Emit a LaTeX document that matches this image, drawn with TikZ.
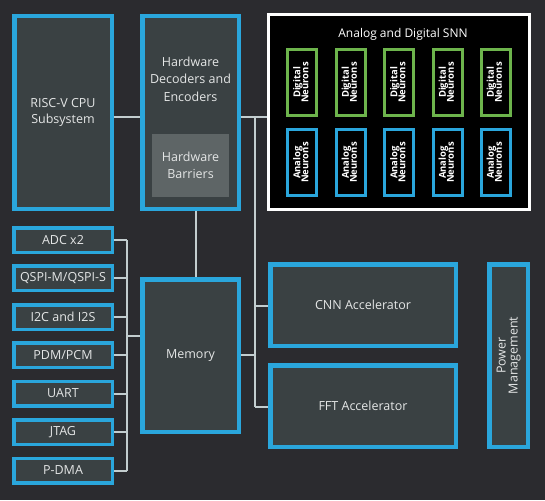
\documentclass[tikz,border=0pt]{standalone}
\usepackage{fontspec}
\setmainfont{Open Sans}
\definecolor{bg}{HTML}{2B2B2F}
\definecolor{boxfill}{HTML}{3A4143}
\definecolor{sblue}{HTML}{2AA6DC}
\definecolor{sgreen}{HTML}{6DB44C}
\definecolor{barr}{HTML}{5E6566}
\definecolor{txt}{HTML}{E4E6E6}
\definecolor{wire}{HTML}{C3CDCF}
\begin{document}
\begin{tikzpicture}[x=1pt,y=-1pt,
  box/.style={draw=sblue,line width=4.5pt,fill=boxfill,text=txt,inner sep=0pt,align=center,font=\fontsize{12.5}{16}\selectfont},
  iobox/.style={draw=sblue,line width=3.5pt,fill=boxfill,text=txt,inner sep=0pt,align=center,
     minimum width=98.5pt,minimum height=24.5pt,font=\fontsize{12.5}{15}\selectfont},
  neuron/.style={line width=3pt,fill=black,text=white,inner sep=0pt,align=center,
     minimum width=29pt,minimum height=66pt,font=\fontsize{9.5}{9}\selectfont\bfseries},
  dneuron/.style={neuron,draw=sgreen},
  aneuron/.style={neuron,draw=sblue},
  wirel/.style={draw=wire,line width=2pt}]
\fill[bg] (0,0) rectangle (545,500);
\useasboundingbox (0,0) rectangle (545,500);

\coordinate (rb0) at (255,117);
\coordinate (rb1) at (255,407);
\coordinate (rbc) at (255,306);
\coordinate (rbm) at (255,355);
\coordinate (lb0) at (127,240);
\coordinate (lb1) at (127,470.5);
\coordinate (lbm) at (127,336);

\node[box,minimum width=97.5pt,minimum height=192.5pt] (cpu) at (63,112.5) {RISC-V CPU\\Subsystem};
\node[box,minimum width=96.5pt,minimum height=192.5pt] (hw) at (190.5,112.5) {};
\node[text=txt,align=center,font=\fontsize{12.5}{17.5}\selectfont] (hwt) at (190.5,79) {Hardware\\Decoders and\\Encoders};
\node[fill=barr,text=txt,align=center,inner sep=0pt,minimum width=77pt,minimum height=63pt,font=\fontsize{12.5}{17.5}\selectfont] (bar) at (190.5,165.5) {Hardware\\Barriers};

\node[draw=white,line width=3pt,fill=black,minimum width=261pt,minimum height=195pt,inner sep=0pt] (snn) at (399,112) {};
\node[text=white,font=\fontsize{12}{14}\selectfont] (snnt) at (403,34) {Analog and Digital SNN};
\foreach \i/\x in {1/302,2/350.5,3/399,4/447.5,5/495.5}{
  \node[dneuron] (d\i) at (\x,82.5) {\rotatebox{90}{\begin{tabular}{@{}c@{}}Digital\\[-1.5pt]Neurons\end{tabular}}};
  \node[aneuron] (a\i) at (\x,162.5) {\rotatebox{90}{\begin{tabular}{@{}c@{}}Analog\\[-1.5pt]Neurons\end{tabular}}};
}

\node[iobox] (adc) at (63,240) {ADC x2};
\node[iobox] (qspi) at (63,278) {QSPI-M/QSPI-S};
\node[iobox] (i2c) at (63,317) {I2C and I2S};
\node[iobox] (pdm) at (63,355) {PDM/PCM};
\node[iobox] (uart) at (63,393.5) {UART};
\node[iobox] (jtag) at (63,432) {JTAG};
\node[iobox] (pdma) at (63,470.5) {P-DMA};

\node[box,minimum width=96.5pt,minimum height=152.5pt] (mem) at (190.5,355.5) {Memory};
\node[box,minimum width=185.5pt,minimum height=81.5pt] (cnn) at (363,305) {CNN Accelerator};
\node[box,minimum width=185.5pt,minimum height=81.5pt] (fft) at (363,406) {FFT Accelerator};
\node[box,minimum width=38.5pt,minimum height=182.5pt] (pwr) at (508.5,355.5) {\rotatebox{90}{\begin{tabular}{@{}c@{}}Power\\[-4pt]Management\end{tabular}}};

\draw[wirel] ([yshift=-4.5pt]cpu.east) -- ([yshift=-4.5pt]hw.west);
\draw[wirel] ([yshift=-4.5pt]hw.east) -- ([yshift=-5pt]snn.west);
\draw[wirel] (rb0) -- (rb1);
\draw[wirel] (rbc) -- (cnn.west |- rbc);
\draw[wirel] (rb1) -- (fft.west |- rb1);
\draw[wirel] (mem.east |- rbm) -- (rbm);
\draw[wirel] ([xshift=5.5pt]hw.south) -- ([xshift=5.5pt]mem.north);
\draw[wirel] (lb0) -- (lb1);
\draw[wirel] (lbm) -- (mem.west |- lbm);
\foreach \n in {adc,qspi,i2c,pdm,uart,jtag,pdma}{
  \draw[wirel] (\n.east) -- (\n.east -| lb0);
}
\end{tikzpicture}
\end{document}
